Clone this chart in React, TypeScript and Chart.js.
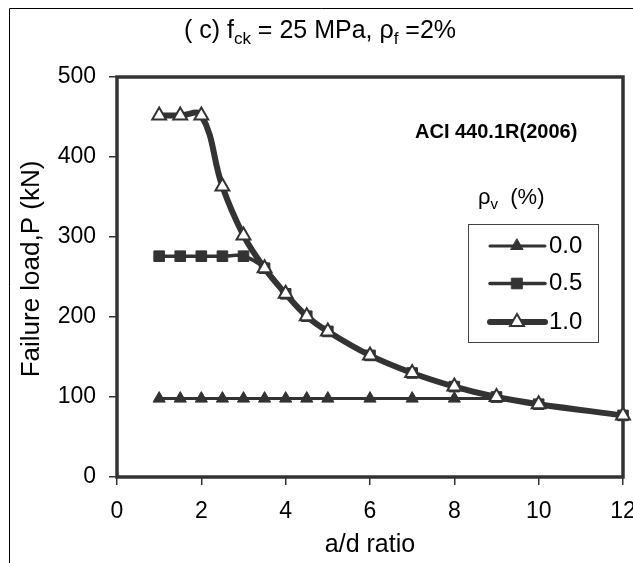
import React, { useEffect, useRef } from 'react';
import { Chart, registerables } from 'chart.js';

Chart.register(...registerables);

// ---- data ----
const adRatioAll = [1, 1.5, 2, 2.5, 3, 3.5, 4, 4.5, 5, 6, 7, 8, 9, 10, 12];
const adRatio00 = [1, 1.5, 2, 2.5, 3, 3.5, 4, 4.5, 5, 6, 7, 8, 9];
const load00 = [98, 98, 98, 98, 98, 98, 98, 98, 98, 98, 98, 98, 98];
const load05 = [276, 276, 276, 276, 276, 261, 229, 201, 182, 152, 130, 113, 100, 91, 77];
const load10 = [452, 452, 452, 363, 302, 261, 229, 201, 182, 152, 130, 113, 100, 91, 77];
const seriesLabels = ['0.0', '0.5', '1.0'];
const xTickValues = [0, 2, 4, 6, 8, 10, 12];
const yTickValues = [0, 100, 200, 300, 400, 500];

const FONT = '"Liberation Sans", Arial, sans-serif';
const INK = '#333333';

type Part = { t: string; sub?: boolean };

function drawRich(ctx: CanvasRenderingContext2D, parts: Part[], x: number, y: number, size: number, subSize: number, align: 'left' | 'center') {
  ctx.save();
  ctx.textBaseline = 'alphabetic';
  ctx.textAlign = 'left';
  let total = 0;
  for (const p of parts) {
    ctx.font = `${p.sub ? subSize : size}px ${FONT}`;
    total += ctx.measureText(p.t).width;
  }
  let cx = align === 'center' ? x - total / 2 : x;
  for (const p of parts) {
    ctx.font = `${p.sub ? subSize : size}px ${FONT}`;
    ctx.fillText(p.t, cx, p.sub ? y + size * 0.22 : y);
    cx += ctx.measureText(p.t).width;
  }
  ctx.restore();
}

function drawMarker(ctx: CanvasRenderingContext2D, style: string, x: number, y: number, r: number, fill: string, stroke: string, bw: number) {
  ctx.save();
  ctx.beginPath();
  if (style === 'triangle') {
    let rad = 0;
    ctx.moveTo(x + Math.sin(rad) * r, y - Math.cos(rad) * r);
    rad += (2 * Math.PI) / 3;
    ctx.lineTo(x + Math.sin(rad) * r, y - Math.cos(rad) * r);
    rad += (2 * Math.PI) / 3;
    ctx.lineTo(x + Math.sin(rad) * r, y - Math.cos(rad) * r);
    ctx.closePath();
  } else {
    const s = r * Math.SQRT1_2;
    ctx.rect(x - s, y - s, 2 * s, 2 * s);
  }
  ctx.fillStyle = fill;
  ctx.fill();
  ctx.lineWidth = bw;
  ctx.strokeStyle = stroke;
  ctx.stroke();
  ctx.restore();
}

const decorPlugin = {
  id: 'decor',
  beforeDraw(chart: any) {
    const ctx = chart.ctx as CanvasRenderingContext2D;
    ctx.save();
    ctx.fillStyle = '#ffffff';
    ctx.fillRect(0, 0, chart.width, chart.height);
    // outer chart frame (left + top visible)
    ctx.strokeStyle = '#000000';
    ctx.lineWidth = 1;
    ctx.beginPath();
    ctx.moveTo(9.5, chart.height + 5);
    ctx.lineTo(9.5, 8.5);
    ctx.lineTo(chart.width + 5, 8.5);
    ctx.stroke();
    ctx.restore();
  },
  beforeDatasetsDraw(chart: any) {
    const ctx = chart.ctx as CanvasRenderingContext2D;
    const a = chart.chartArea;
    ctx.save();
    ctx.strokeStyle = INK;
    ctx.lineWidth = 3.5;
    ctx.strokeRect(a.left, a.top, a.right - a.left, a.bottom - a.top);
    ctx.restore();
  },
  afterDraw(chart: any) {
    const ctx = chart.ctx as CanvasRenderingContext2D;
    const a = chart.chartArea;
    ctx.save();
    ctx.fillStyle = '#000000';
    // title
    drawRich(ctx, [
      { t: '( c) f' }, { t: 'ck', sub: true }, { t: ' = 25 MPa, ρ' }, { t: 'f', sub: true }, { t: ' =2%' },
    ], 320, 38, 25, 17, 'center');
    // annotation
    ctx.font = `bold 20px ${FONT}`;
    ctx.textAlign = 'left';
    ctx.textBaseline = 'alphabetic';
    ctx.fillText('ACI 440.1R(2006)', 415, 138);
    // axis titles
    ctx.font = `25px ${FONT}`;
    ctx.textAlign = 'center';
    ctx.fillText('a/d ratio', (a.left + a.right) / 2, 552);
    ctx.save();
    ctx.translate(32, 269);
    ctx.rotate(-Math.PI / 2);
    ctx.font = `26px ${FONT}`;
    ctx.textBaseline = 'middle';
    ctx.fillText('Failure load,P (kN)', 0, 0);
    ctx.restore();
    // legend title
    drawRich(ctx, [{ t: 'ρ' }, { t: 'v', sub: true }, { t: '  (%)' }], 478, 204, 22, 15, 'left');
    // legend box
    ctx.strokeStyle = '#444444';
    ctx.lineWidth = 1;
    ctx.strokeRect(468.5, 224.5, 130, 118);
    const ys = [246, 283.5, 322];
    const dsOrder = [2, 1, 0];
    dsOrder.forEach((di, i) => {
      const ds = chart.data.datasets[di];
      const y = ys[i];
      ctx.strokeStyle = ds.borderColor;
      ctx.lineWidth = ds.borderWidth;
      ctx.lineCap = 'round';
      ctx.beginPath();
      ctx.moveTo(490, y);
      ctx.lineTo(545, y);
      ctx.stroke();
      drawMarker(ctx, ds.pointStyle, 517, y, ds.pointRadius, ds.pointBackgroundColor, ds.pointBorderColor, ds.pointBorderWidth);
      ctx.fillStyle = '#000000';
      ctx.font = `24px ${FONT}`;
      ctx.textAlign = 'left';
      ctx.textBaseline = 'alphabetic';
      ctx.fillText(seriesLabels[i], 549, y + 6.5);
    });
    ctx.restore();
  },
};

export default function App() {
  const ref = useRef<HTMLCanvasElement | null>(null);
  useEffect(() => {
    if (!ref.current) return;
    const chart = new Chart(ref.current, {
      type: 'line',
      data: {
        datasets: [
          {
            label: seriesLabels[2],
            data: adRatioAll.map((x, i) => ({ x, y: load10[i] })),
            borderColor: INK,
            borderWidth: 6,
            tension: 0.4,
            pointStyle: 'triangle',
            pointRadius: 8,
            pointBackgroundColor: '#ffffff',
            pointBorderColor: INK,
            pointBorderWidth: 2,
            order: 0,
            clip: 12,
          } as any,
          {
            label: seriesLabels[1],
            data: adRatioAll.map((x, i) => ({ x, y: load05[i] })),
            borderColor: INK,
            borderWidth: 3.5,
            tension: 0.4,
            pointStyle: 'rect',
            pointRadius: 7.5,
            pointBackgroundColor: INK,
            pointBorderColor: INK,
            pointBorderWidth: 1,
            order: 1,
            clip: 12,
          },
          {
            label: seriesLabels[0],
            data: adRatio00.map((x, i) => ({ x, y: load00[i] })),
            borderColor: INK,
            borderWidth: 3,
            tension: 0,
            pointStyle: 'triangle',
            pointRadius: 7,
            pointBackgroundColor: INK,
            pointBorderColor: INK,
            pointBorderWidth: 1,
            order: 2,
            clip: 12,
          },
        ],
      },
      options: {
        animation: false,
        responsive: false,
        devicePixelRatio: 1,
        layout: { padding: { left: 0, top: 77, right: 8, bottom: 0 } },
        plugins: { legend: { display: false }, tooltip: { enabled: false } },
        scales: {
          x: {
            type: 'linear',
            min: 0,
            max: 12,
            afterFit: (s: any) => { s.height = 86; s.paddingLeft = 0; s.paddingRight = 0; },
            afterBuildTicks: (s: any) => { s.ticks = xTickValues.map((v) => ({ value: v })); },
            ticks: { color: '#000', font: { family: FONT, size: 23 }, padding: 13, maxRotation: 0, autoSkip: false },
            grid: { drawOnChartArea: false, drawTicks: true, tickLength: 8, color: INK, lineWidth: 1.5 },
            border: { display: false },
          },
          y: {
            type: 'linear',
            min: 0,
            max: 500,
            afterFit: (s: any) => { s.width = 117; s.paddingTop = 0; s.paddingBottom = 0; },
            afterBuildTicks: (s: any) => { s.ticks = yTickValues.map((v) => ({ value: v })); },
            ticks: { color: '#000', font: { family: FONT, size: 23 }, padding: 13, autoSkip: false },
            grid: { drawOnChartArea: false, drawTicks: true, tickLength: 8, color: INK, lineWidth: 1.5 },
            border: { display: false },
          },
        },
      },
      plugins: [decorPlugin],
    });
    return () => chart.destroy();
  }, []);
  return (
    <div style={{ position: 'fixed', left: 0, top: 0, width: 633, height: 563 }}>
      <canvas ref={ref} width={633} height={563} style={{ display: 'block', width: 633, height: 563 }} />
    </div>
  );
}
